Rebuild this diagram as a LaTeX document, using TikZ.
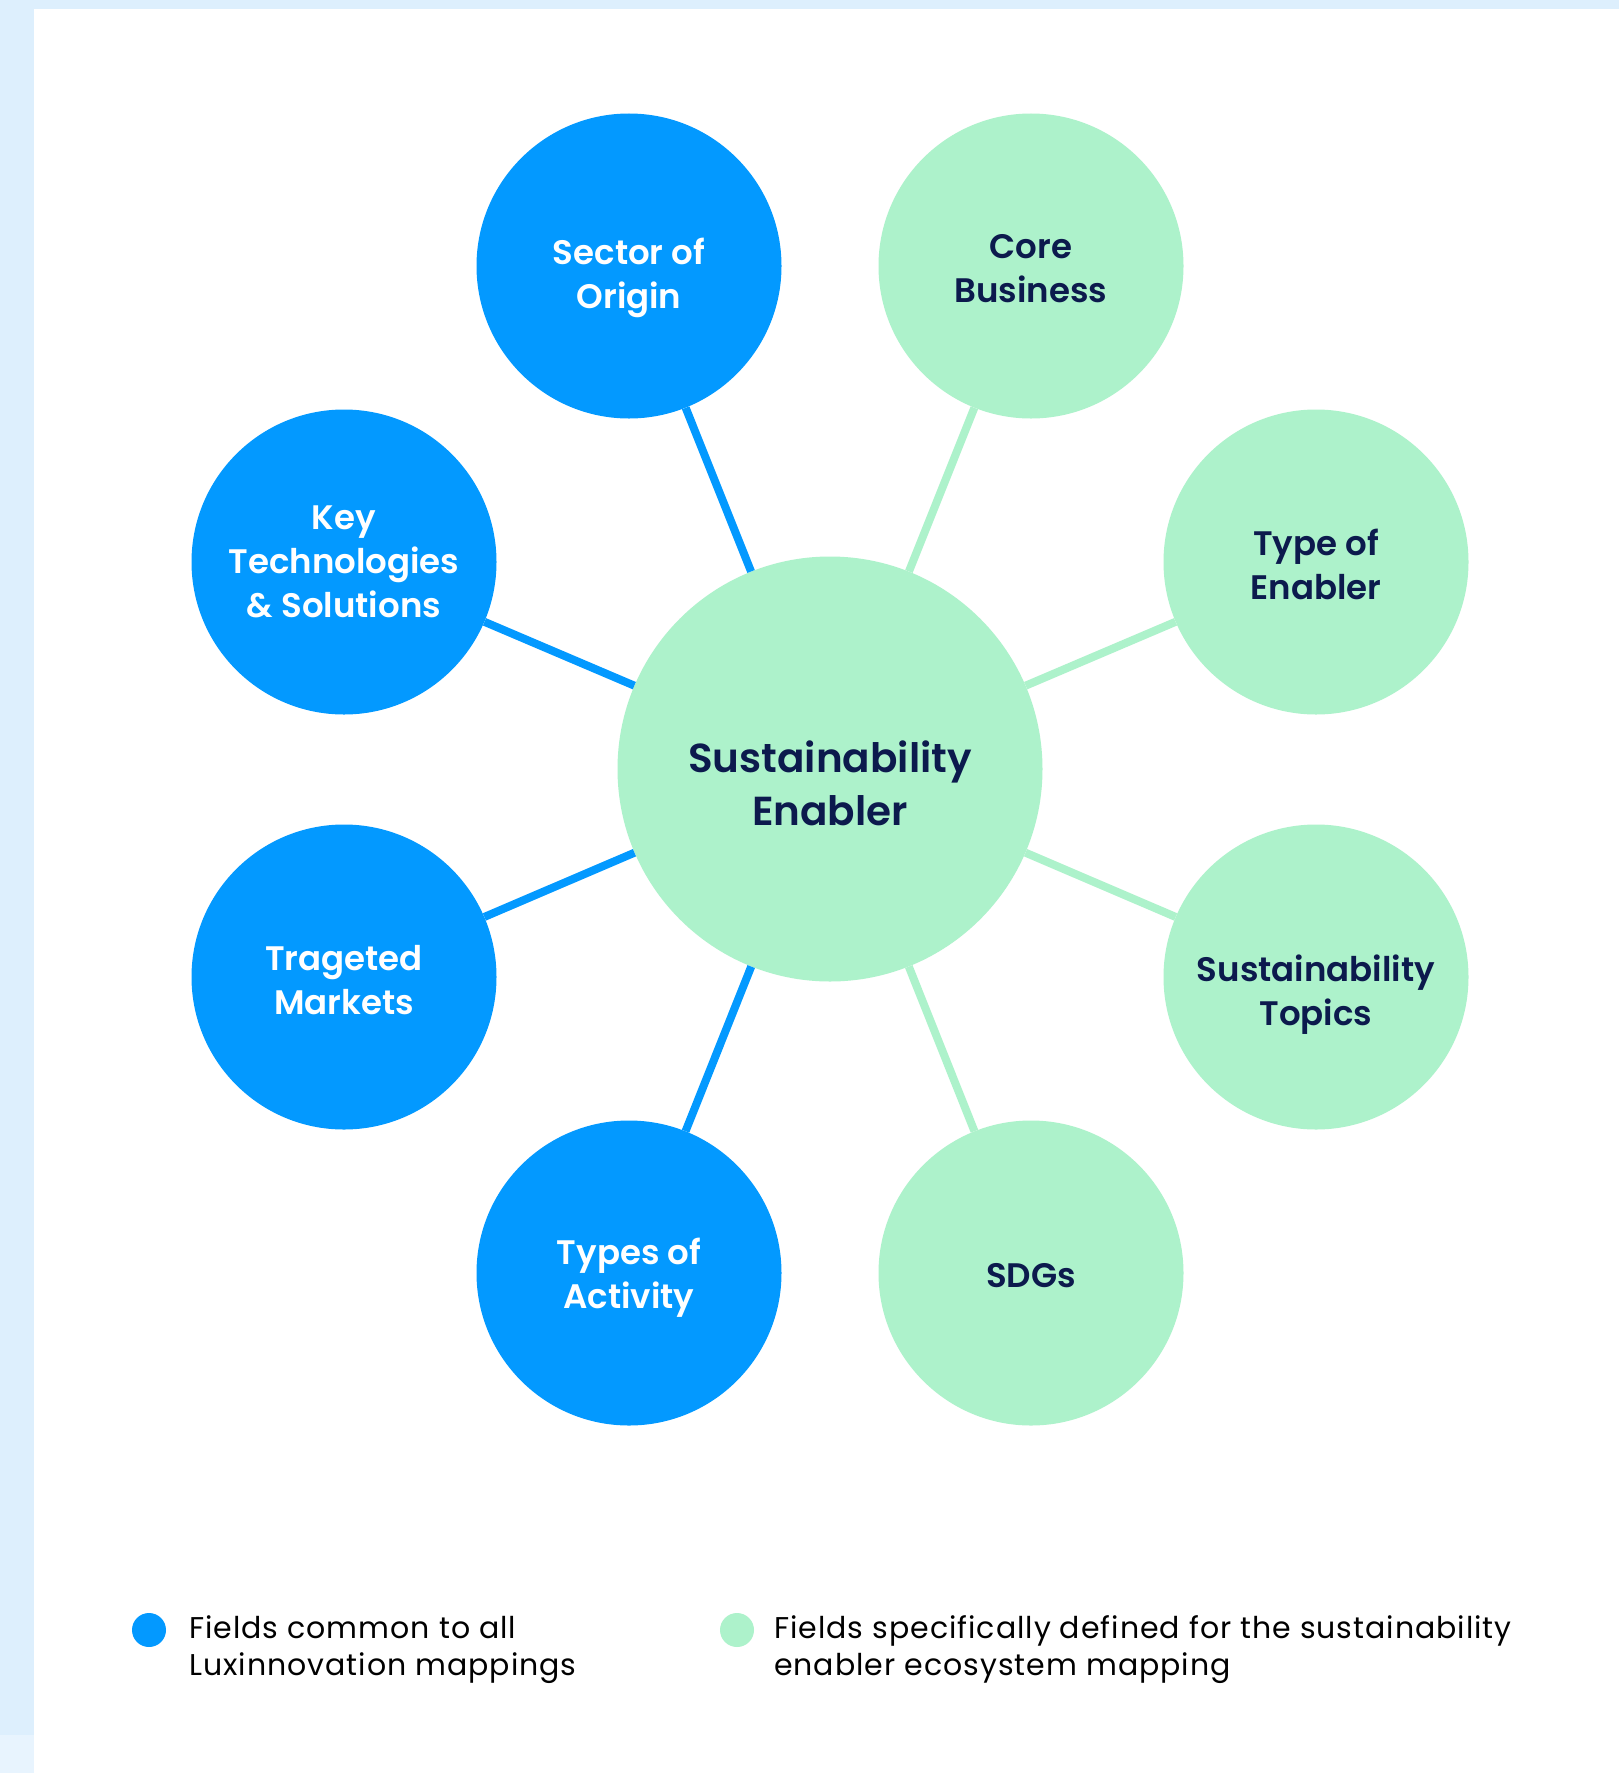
\documentclass[tikz,border=0pt]{standalone}
\usepackage{fontspec}
\setmainfont{Poppins}
\IfFontExistsTF{Poppins SemiBold}
  {\newfontfamily\medfam{Poppins SemiBold}}
  {\IfFontExistsTF{Poppins Medium}
    {\newfontfamily\medfam{Poppins Medium}}
    {\newfontfamily\medfam{Poppins}[UprightFont=*,FakeBold=0.6]\let\oldmedfam\medfam\renewcommand{\medfam}{\oldmedfam\bfseries}}}
\newfontfamily\legendfam{Poppins}[LetterSpace=3.3]

\definecolor{luxblue}{HTML}{0399FF}
\definecolor{luxgreen}{HTML}{ADF2CB}
\definecolor{luxnavy}{HTML}{0C1A4D}
\definecolor{bgblue}{HTML}{DDEFFD}
\definecolor{bgpale}{HTML}{E8F4FE}

\newcommand{\fieldfont}{\medfam\fontsize{34bp}{44bp}\selectfont}
\newcommand{\hubfont}{\medfam\fontsize{40.5bp}{53bp}\selectfont}
\newcommand{\legendfont}{\legendfam\fontsize{30bp}{37bp}\selectfont}

\begin{document}
\begin{tikzpicture}[x=1bp,y=-1bp]

\def\fieldsize{305bp}

\tikzstyle{field}=[circle,minimum size=\fieldsize,inner sep=0pt]
\tikzstyle{common}=[field,fill=luxblue]
\tikzstyle{specific}=[field,fill=luxgreen]
\tikzstyle{hub}=[specific,minimum size=425bp]
\tikzstyle{fieldtext}=[align=center,inner sep=0pt,font=\fieldfont]
\tikzstyle{commontext}=[fieldtext,text=white]
\tikzstyle{specifictext}=[fieldtext,text=luxnavy]
\tikzstyle{dot}=[circle,minimum size=34bp,inner sep=0pt]
\tikzstyle{legend}=[anchor=west,align=left,inner sep=0pt,font=\legendfont,text=black]

%Background
\useasboundingbox (0,0) rectangle (1619,1773);
\fill[bgblue] (0,0) rectangle (1619,1773);
\fill[bgpale] (0,1735) rectangle (34,1773);
\fill[white] (34,9) rectangle (1619,1773);

%Circles
\node[hub] (hub) at (830,769) {};

\node[common] (origin) at (629,266) {};
\node[common] (keytech) at (344,562) {};
\node[common] (markets) at (344,977) {};
\node[common] (activity) at (629,1273) {};

\node[specific] (core) at (1031,266) {};
\node[specific] (enabler) at (1316,562) {};
\node[specific] (topics) at (1316,977) {};
\node[specific] (sdgs) at (1031,1273) {};

%spokes.
\draw[luxblue,line width=8bp] (hub) -- (origin);
\draw[luxblue,line width=8bp] (hub) -- (keytech);
\draw[luxblue,line width=8bp] (hub) -- (markets);
\draw[luxblue,line width=8bp] (hub) -- (activity);

\draw[luxgreen,line width=8bp] (hub) -- (core);
\draw[luxgreen,line width=8bp] (hub) -- (enabler);
\draw[luxgreen,line width=8bp] (hub) -- (topics);
\draw[luxgreen,line width=8bp] (hub) -- (sdgs);

%Labels
\node[specifictext,font=\hubfont] (hubtext) at ([yshift=-14bp]hub) {Sustainability\\Enabler};

\node[commontext] (origintext) at ([yshift=-12bp]origin) {Sector of\\Origin};
\node[commontext] (keytechtext) at (keytech) {Key\\Technologies\\\& Solutions};
\node[commontext] (marketstext) at ([yshift=-3bp]markets) {Trageted\\Markets};
\node[commontext] (activitytext) at ([yshift=-5bp]activity) {Types of\\Activity};

\node[specifictext] (coretext) at ([yshift=-3bp]core) {Core\\Business};
\node[specifictext] (enablertext) at ([yshift=-2bp]enabler) {Type of\\Enabler};
\node[specifictext] (topicstext) at ([yshift=-18bp]topics) {Sustainability\\Topics};
\node[specifictext] (sdgstext) at ([yshift=-3bp]sdgs) {SDGs};

%Legend
\node[dot,fill=luxblue] (commondot) at (149,1630) {};
\node[legend] (commonlegend) at (189,1650) {Fields common to all\\Luxinnovation mappings};

\node[dot,fill=luxgreen] (specificdot) at (737,1630) {};
\node[legend] (specificlegend) at (774,1650) {Fields specifically defined for the sustainability\\enabler ecosystem mapping};

\end{tikzpicture}
\end{document}
